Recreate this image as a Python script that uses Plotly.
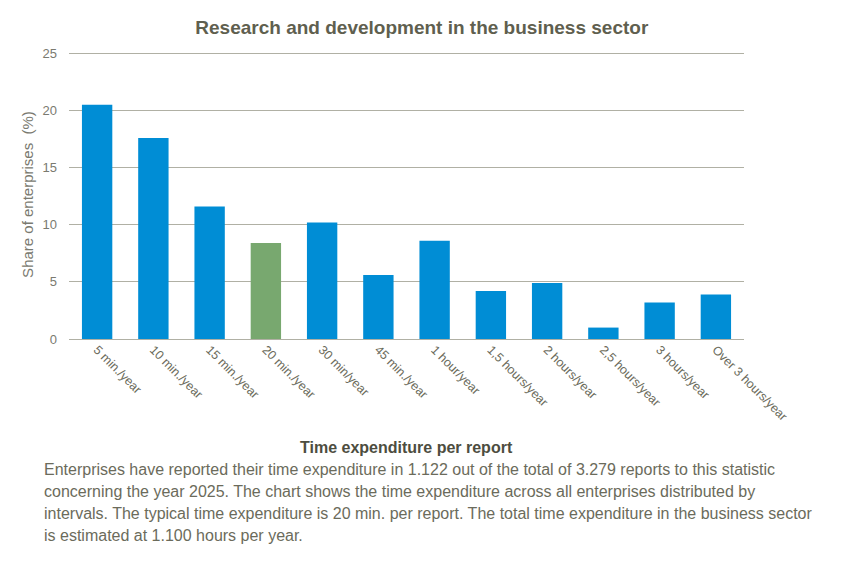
import plotly.graph_objects as go

# interval labels and share of enterprises (%)
categories = [
    "5 min./year", "10 min./year", "15 min./year", "20 min./year",
    "30 min/year", "45 min./year", "1 hour/year", "1,5 hours/year",
    "2 hours/year", "2,5 hours/year", "3 hours/year", "Over 3 hours/year",
]
shares = [20.5, 17.6, 11.6, 8.4, 10.2, 5.6, 8.6, 4.2, 4.9, 1.0, 3.2, 3.9]
typical = "20 min./year"

note_lines = [
    "Enterprises have reported their time expenditure in 1.122 out of the total of 3.279 reports to this statistic",
    "concerning the year 2025. The chart shows the time expenditure across all enterprises distributed by",
    "intervals. The typical time expenditure is 20 min. per report. The total time expenditure in the business sector",
    "is estimated at 1.100 hours per year.",
]

FONT = "Liberation Sans Narrow, Arial Narrow, Liberation Sans, sans-serif"
TEXT = "#6b6b5b"

bar_colors = ["#78a86f" if c == typical else "#008dd5" for c in categories]

fig = go.Figure(go.Bar(x=categories, y=shares, marker_color=bar_colors,
                       marker_line_width=0))

annotations = [
    dict(text="<b>Time expenditure per report</b>", xref="paper", yref="paper",
         x=0.5, y=-0.377, xanchor="center", yanchor="middle", showarrow=False,
         font=dict(size=16, color="#4d4d40", family=FONT)),
]
# one annotation per footnote line so the line spacing matches
for i, line in enumerate(note_lines):
    annotations.append(dict(
        text=line, xref="paper", yref="paper", x=-0.04, y=-0.4527 - i * 0.076,
        xanchor="left", yanchor="middle", align="left", showarrow=False,
        font=dict(size=16, color=TEXT, family=FONT)))

# page body has an 8px margin, so the figure is a bit smaller than the window
fig.update_layout(
    width=836, height=556,
    margin=dict(l=61, r=100, t=42, b=225),
    paper_bgcolor="white", plot_bgcolor="white",
    font=dict(family=FONT, color=TEXT, size=13),
    bargap=0.46,
    showlegend=False,
    title=dict(text="<b>Research and development in the business sector</b>",
               x=0.495, xanchor="center", xref="container",
               y=0.966, yanchor="middle",
               font=dict(size=19, color="#5f5f4f")),
    xaxis=dict(tickangle=45, showgrid=False, ticks="", showline=False,
               automargin=False, tickfont=dict(size=12.5, color=TEXT)),
    yaxis=dict(range=[0, 25.3], tickvals=[0, 5, 10, 15, 20, 25],
               gridcolor="#b0b0a4", gridwidth=1.3,
               zeroline=True, zerolinecolor="#b0b0a4", zerolinewidth=1.3,
               ticks="", automargin=False, ticklabelstandoff=11,
               tickfont=dict(size=13, color="#7a7a70"),
               title=dict(text="Share of enterprises  (%)", standoff=5,
                          font=dict(size=15, color="#7a7a70"))),
    annotations=annotations,
)

fig.write_html("out.html")
